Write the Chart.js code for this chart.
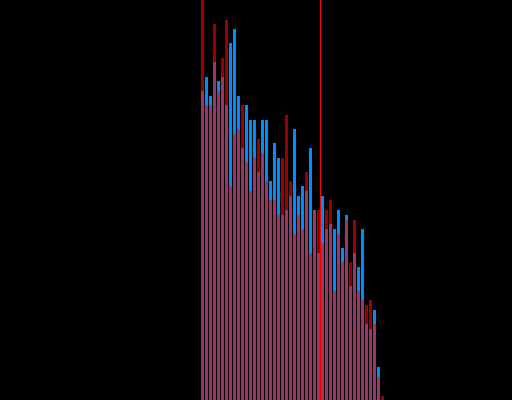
<!DOCTYPE html>
<html>
<head>
<meta charset="utf-8">
<script src="https://cdn.jsdelivr.net/npm/chart.js@4"></script>
<style>
  html, body { margin: 0; padding: 0; background: #000; }
  canvas { display: block; }
</style>
</head>
<body>
<canvas id="histChart" width="512" height="400"></canvas>
<script>
// bin index labels (x axis is hidden in the original)
const bins = Array.from({ length: 46 }, (_, i) => String(i + 1));

// bar heights
const blueValues = [309, 323, 304, 338, 319, 323, 295, 357, 371, 304, 252, 295, 280, 280, 228, 280,
  280, 219, 257, 242, 185, 190, 204, 271, 204, 214, 209, 252, 190, 147, 204, 171,
  176, 171, 190, 152, 185, 114, 147, 133, 171, 76, 71, 90, 33, 0];
const redValues = [410, 295, 295, 376, 309, 342, 380, 214, 266, 271, 295, 238, 209, 242, 261, 247,
  219, 200, 200, 185, 242, 285, 219, 166, 185, 171, 228, 147, 190, 190, 157, 190,
  200, 109, 166, 138, 180, 138, 180, 109, 100, 95, 100, 76, 23, 4];

// position of the vertical marker, in bin units
const markerBin = 29.5;

const markerLine = {
  id: "markerLine",
  afterDatasetsDraw(chart) {
    const ctx = chart.ctx;
    const x = chart.scales.x.getPixelForValue(markerBin);
    ctx.save();
    ctx.strokeStyle = "#ff0000";
    ctx.lineWidth = 1;
    ctx.beginPath();
    ctx.moveTo(x, chart.chartArea.top);
    ctx.lineTo(x, chart.chartArea.bottom);
    ctx.stroke();
    ctx.restore();
  },
};

const ctx = document.getElementById("histChart").getContext("2d");
new Chart(ctx, {
  type: "bar",
  data: {
    labels: bins,
    datasets: [
      {
        label: "B",
        data: redValues,
        backgroundColor: "rgba(255, 0, 0, 0.6)",
        borderWidth: 0,
        grouped: false,
        order: 0,
      },
      {
        label: "A",
        data: blueValues,
        backgroundColor: "rgb(0, 140, 255)",
        borderWidth: 0,
        grouped: false,
        order: 1,
      },
    ],
  },
  options: {
    responsive: false,
    animation: false,
    layout: {
      padding: { left: 200.5, right: 127.5, top: 0, bottom: 0 },
    },
    datasets: {
      bar: { categoryPercentage: 1, barPercentage: 0.75 },
    },
    plugins: {
      legend: { display: false },
      tooltip: { enabled: false },
    },
    scales: {
      x: { display: false, offset: true },
      y: { display: false, min: 0, max: 400 },
    },
  },
  plugins: [markerLine],
});
</script>
</body>
</html>
